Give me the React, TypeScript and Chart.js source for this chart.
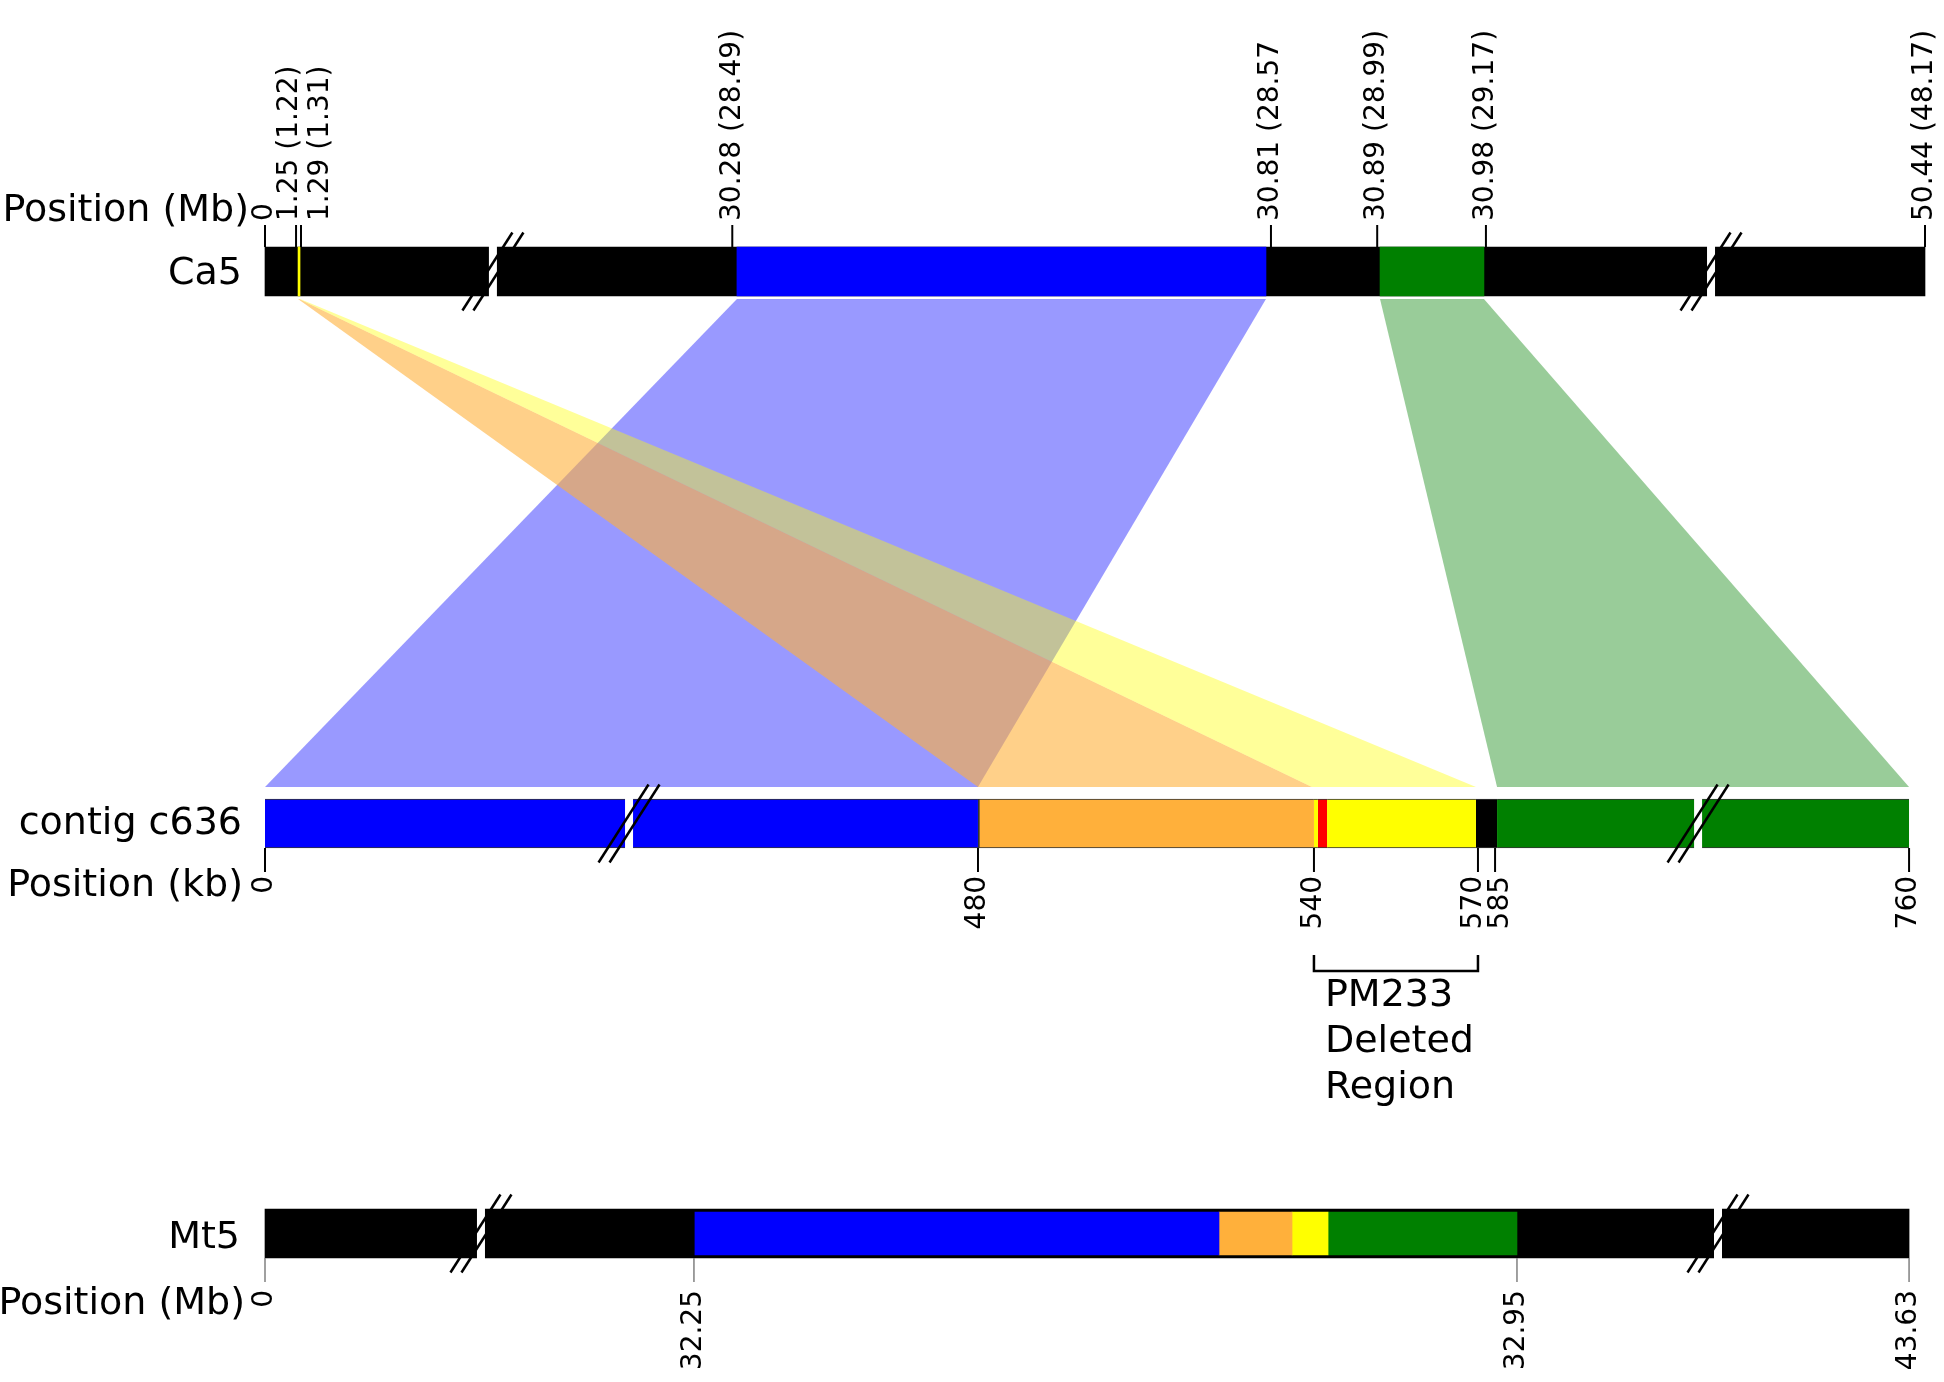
import React, { useEffect, useRef } from 'react';
import { Chart, registerables } from 'chart.js';

Chart.register(...registerables);

// ---------------- data ----------------
const trackNames = ['Ca5', 'contig c636', 'Mt5'];
const axisTitles = ['Position (Mb)', 'Position (kb)', 'Position (Mb)'];

// Ca5 chromosome (schematic axis 0..1000)
const ca5TickLabels = ['0', '1.25 (1.22)', '1.29 (1.31)', '30.28 (28.49)', '30.81 (28.57', '30.89 (28.99)', '30.98 (29.17)', '50.44 (48.17)'];
const ca5TickPos = [0, 18.7, 21.7, 281.5, 606, 670, 735.5, 1000];
const ca5SegStart = [0, 19.9, 284.3, 671.7];
const ca5SegEnd = [1000, 21.1, 603, 734.3];
const ca5SegBlock = ['bg', 'yellow', 'blue', 'green'];
const ca5Breaks = [137.3, 871.1];

// contig c636 (kb)
const contigTickLabels = ['0', '480', '540', '570', '585', '760'];
const contigTickPos = [0, 429.5, 631.9, 730.7, 741, 990.4];
const contigSegStart = [0, 429.5, 631.9, 634.3, 639.8, 729.5, 742.2];
const contigSegEnd = [429.5, 631.9, 634.3, 639.8, 729.5, 742.2, 990.4];
const contigSegBlock = ['blue', 'orange', 'yellow', 'red', 'yellow', 'bg', 'green'];
const contigBreaks = [219.3, 863.3];

// Mt5 chromosome (Mb)
const mt5TickLabels = ['0', '32.25', '32.95', '43.63'];
const mt5TickPos = [0, 258.4, 754.2, 990.4];
const mt5SegStart = [0, 259, 574.7, 618.7, 640.4];
const mt5SegEnd = [990.4, 574.7, 618.7, 640.4, 754.2];
const mt5SegBlock = ['bg', 'blue', 'orange', 'yellow', 'green'];
const mt5Breaks = [130.1, 875.3];

// synteny links Ca5 -> contig
const linkBlock = ['blue', 'orange', 'yellow', 'green'];
const linkTopStart = [284.3, 19.9, 20.5, 671.7];
const linkTopEnd = [603, 20.5, 21.1, 734.3];
const linkBotStart = [0, 429.5, 630.7, 742.2];
const linkBotEnd = [429.5, 630.7, 729.5, 990.4];

// deleted region
const deletedLabel = ['PM233', 'Deleted', 'Region'];
const deletedFrom = 631.9;
const deletedTo = 730.7;

// ---------------- styles / layout ----------------
const BLOCK_COLORS: Record<string, string> = {
  bg: '#000000',
  blue: '#0000FF',
  orange: '#FFB03B',
  yellow: '#FFFF00',
  red: '#FF0000',
  green: '#008000',
};
const LINK_COLORS: Record<string, string> = {
  blue: 'rgba(0,0,255,0.4)',
  orange: 'rgba(255,176,59,0.6)',
  yellow: 'rgba(255,255,0,0.4)',
  green: 'rgba(0,128,0,0.4)',
};
const ROW = { ca5: 2.3463, contig: 1, mt5: 0 };
const BAR_H = 49;
const W = 1944;
const H = 1382;
const TICK_FONT = '28px "DejaVu Sans"';
const LABEL_FONT = '38px "DejaVu Sans"';
const ca5LabelShift = [0, -6, 20, 0, 0, 0, 0, 0];
const contigLabelShift = [0, 0, 0, -4, 6, 0];

function makeSegs(row: number, starts: number[], ends: number[], blocks: string[], kind: string) {
  return starts.map((s, i) => {
    const b = blocks[i];
    const isBg = b === 'bg' && kind !== 'contig';
    let thickness = BAR_H;
    if (kind === 'mt5' && !isBg) thickness = BAR_H - 6;
    let borderWidth: any = 0;
    if (kind === 'contig') {
      borderWidth = { top: 1, bottom: 1, left: b === 'orange' ? 2 : 0, right: 0 };
    }
    return {
      label: kind + '-' + i,
      data: [{ x: [s, ends[i]], y: row }],
      backgroundColor: BLOCK_COLORS[b],
      borderColor: 'rgba(0,0,0,0.8)',
      borderWidth,
      borderSkipped: false,
      barThickness: thickness,
      grouped: false,
      clip: false,
      order: isBg ? 2 : 1,
    };
  });
}

function drawBreak(ctx: CanvasRenderingContext2D, cx: number, cy: number) {
  ctx.fillStyle = '#FFFFFF';
  ctx.fillRect(cx - 4, cy - BAR_H / 2 - 1, 8, BAR_H + 2);
  ctx.strokeStyle = '#000000';
  ctx.lineWidth = 2.5;
  for (const d of [-5.5, 5.5]) {
    ctx.beginPath();
    ctx.moveTo(cx + d - 25, cy + 39);
    ctx.lineTo(cx + d + 25, cy - 39);
    ctx.stroke();
  }
}

function rotatedText(ctx: CanvasRenderingContext2D, text: string, x: number, y: number, align: CanvasTextAlign) {
  ctx.save();
  ctx.translate(x, y);
  ctx.rotate(-Math.PI / 2);
  ctx.textAlign = align;
  ctx.textBaseline = 'middle';
  ctx.fillText(text, 0, 0);
  ctx.restore();
}

const diagramPlugin = {
  id: 'syntenyDiagram',
  beforeDatasetsDraw(chart: any) {
    const { ctx } = chart;
    const x = chart.scales.x;
    const y = chart.scales.y;
    const top = y.getPixelForValue(ROW.ca5) + BAR_H / 2 + 3;
    const bot = y.getPixelForValue(ROW.contig) - BAR_H / 2 - 12;
    ctx.save();
    linkBlock.forEach((b, i) => {
      ctx.beginPath();
      ctx.moveTo(x.getPixelForValue(linkTopStart[i]), top);
      ctx.lineTo(x.getPixelForValue(linkTopEnd[i]), top);
      ctx.lineTo(x.getPixelForValue(linkBotEnd[i]), bot);
      ctx.lineTo(x.getPixelForValue(linkBotStart[i]), bot);
      ctx.closePath();
      ctx.fillStyle = LINK_COLORS[b];
      ctx.fill();
    });
    ctx.restore();
  },
  afterDatasetsDraw(chart: any) {
    const { ctx } = chart;
    const x = chart.scales.x;
    const y = chart.scales.y;
    const yCa = y.getPixelForValue(ROW.ca5);
    const yCo = y.getPixelForValue(ROW.contig);
    const yMt = y.getPixelForValue(ROW.mt5);
    ctx.save();

    // breaks
    ca5Breaks.forEach((b) => drawBreak(ctx, x.getPixelForValue(b), yCa));
    contigBreaks.forEach((b) => drawBreak(ctx, x.getPixelForValue(b), yCo));
    mt5Breaks.forEach((b) => drawBreak(ctx, x.getPixelForValue(b), yMt));

    ctx.fillStyle = '#000000';
    ctx.font = TICK_FONT;

    // Ca5 ticks (above)
    ctx.strokeStyle = '#000000';
    ctx.lineWidth = 2;
    const caTop = yCa - BAR_H / 2;
    ca5TickPos.forEach((p, i) => {
      const px = x.getPixelForValue(p);
      ctx.beginPath();
      ctx.moveTo(px, caTop);
      ctx.lineTo(px, caTop - 22);
      ctx.stroke();
      rotatedText(ctx, ca5TickLabels[i], px + ca5LabelShift[i], caTop - 26, 'left');
    });

    // contig ticks (below)
    const coBot = yCo + BAR_H / 2;
    contigTickPos.forEach((p, i) => {
      const px = x.getPixelForValue(p);
      ctx.beginPath();
      ctx.moveTo(px, coBot);
      ctx.lineTo(px, coBot + 24);
      ctx.stroke();
      rotatedText(ctx, contigTickLabels[i], px + contigLabelShift[i], coBot + 28, 'right');
    });

    // Mt5 ticks (below, thin gray)
    const mtBot = yMt + BAR_H / 2;
    ctx.strokeStyle = '#808080';
    ctx.lineWidth = 1.5;
    mt5TickPos.forEach((p, i) => {
      const px = x.getPixelForValue(p);
      ctx.beginPath();
      ctx.moveTo(px, mtBot);
      ctx.lineTo(px, mtBot + 24);
      ctx.stroke();
      rotatedText(ctx, mt5TickLabels[i], px, mtBot + 32, 'right');
    });

    // deleted-region bracket
    const bx1 = x.getPixelForValue(deletedFrom);
    const bx2 = x.getPixelForValue(deletedTo);
    ctx.strokeStyle = '#000000';
    ctx.lineWidth = 2.5;
    ctx.beginPath();
    ctx.moveTo(bx1, yCo + 131.5);
    ctx.lineTo(bx1, yCo + 147.5);
    ctx.lineTo(bx2, yCo + 147.5);
    ctx.lineTo(bx2, yCo + 131.5);
    ctx.stroke();
    ctx.font = LABEL_FONT;
    ctx.textAlign = 'left';
    ctx.textBaseline = 'alphabetic';
    deletedLabel.forEach((t, i) => {
      ctx.fillText(t, bx1 + 11, yCo + 182.5 + i * 46);
    });

    // left labels
    const left = x.left;
    ctx.textAlign = 'right';
    ctx.fillText(axisTitles[0], left - 16, yCa - 50.5);
    ctx.fillText(trackNames[0], left - 23, yCa + 12.5);
    ctx.fillText(trackNames[1], left - 23, yCo + 10.5);
    ctx.fillText(axisTitles[1], left - 22, yCo + 72.5);
    ctx.fillText(trackNames[2], left - 25, yMt + 14.5);
    ctx.fillText(axisTitles[2], left - 20, yMt + 80.5);

    ctx.restore();
  },
};

export default function App() {
  const canvasRef = useRef<HTMLCanvasElement | null>(null);

  useEffect(() => {
    const canvas = canvasRef.current;
    if (!canvas) return;
    const datasets = [
      ...makeSegs(ROW.ca5, ca5SegStart, ca5SegEnd, ca5SegBlock, 'ca5'),
      ...makeSegs(ROW.contig, contigSegStart, contigSegEnd, contigSegBlock, 'contig'),
      ...makeSegs(ROW.mt5, mt5SegStart, mt5SegEnd, mt5SegBlock, 'mt5'),
    ];
    const chart = new Chart(canvas, {
      type: 'bar',
      data: { datasets: datasets as any },
      options: {
        indexAxis: 'y',
        responsive: false,
        animation: false,
        devicePixelRatio: 1,
        layout: { padding: { left: 265, right: 19, top: 271.5, bottom: 148.5 } },
        scales: {
          x: { type: 'linear', min: 0, max: 1000, display: false, offset: false },
          y: { type: 'linear', min: 0, max: 2.3463, display: false, offset: false },
        },
        plugins: {
          legend: { display: false },
          tooltip: { enabled: false },
        },
      } as any,
      plugins: [diagramPlugin],
    });
    return () => chart.destroy();
  }, []);

  return (
    <div style={{ position: 'absolute', left: 0, top: 0, width: W, height: H, background: '#FFFFFF' }}>
      <canvas ref={canvasRef} width={W} height={H} style={{ display: 'block' }} />
    </div>
  );
}
